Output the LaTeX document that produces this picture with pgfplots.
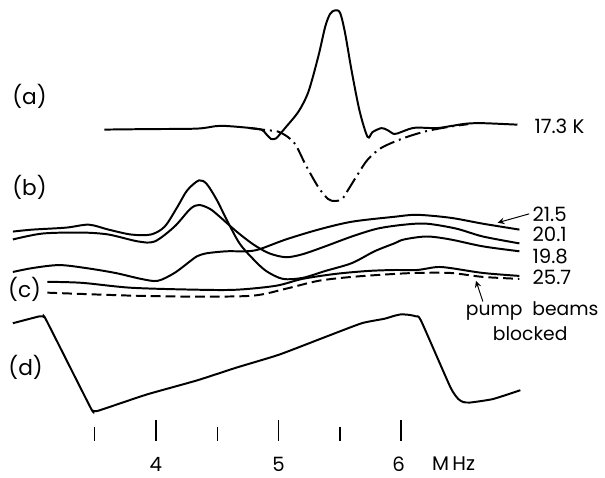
\documentclass[border=0pt]{standalone}
\usepackage{fontspec}
\setmainfont{Poppins}
\usepackage{pgfplots}
\pgfplotsset{compat=1.18}

\begin{document}
\begin{tikzpicture}
\begin{axis}[
    scale only axis,
    width=302.5pt, height=242pt,
    xmin=2.728, xmax=7.591,
    ymin=0, ymax=484,
    y dir=reverse,
    axis lines=none,
    clip=false,
    no markers,
    cycle list={{black, solid}},
    every axis plot post/.append style={black, line width=1pt, smooth},
]
\path (rel axis cs:0,0) rectangle (rel axis cs:1,1);

% (a) signal, 17.3 K
\addplot coordinates {
 (3.580,131.5) (3.934,131) (4.336,130.5) (4.521,127.7) (4.738,129.5)
 (4.859,131.5) (4.899,136) (4.939,141) (4.979,140.5) (5.019,135)
 (5.060,129) (5.164,113) (5.244,93) (5.325,57) (5.381,27) (5.421,14)
 (5.461,10.5) (5.502,13) (5.542,33) (5.598,73) (5.662,113) (5.727,139)
 (5.767,134) (5.839,130) (5.888,132) (5.944,136) (6.000,134) (6.064,131)
 (6.129,129.5) (6.290,130) (6.402,128) (6.531,125.5) (6.667,125) (6.949,126.5)
};
\addplot[dash pattern=on 8pt off 2.5pt on 1pt off 2.5pt] coordinates {
 (4.762,130) (4.899,132) (4.995,133.5) (5.076,139) (5.140,147) (5.220,167)
 (5.325,190) (5.405,202) (5.461,204) (5.518,202) (5.566,193) (5.646,177)
 (5.727,162) (5.839,150) (6.024,140) (6.209,133) (6.402,128.5) (6.547,126)
};

% (b) 21.5
\addplot coordinates {
 (2.833,276) (2.994,272) (3.211,269) (3.428,272) (3.669,277) (3.878,283)
 (4.014,285) (4.151,277) (4.280,265) (4.336,260) (4.416,257) (4.577,255)
 (4.738,255) (4.842,253) (5.060,243) (5.325,233) (5.598,225) (5.944,220)
 (6.129,218) (6.402,221) (6.667,227) (6.965,233)
};
% (b) 20.1
\addplot coordinates {
 (2.833,243) (3.074,237) (3.395,236) (3.613,238) (3.854,245) (3.990,245)
 (4.151,230) (4.280,212) (4.352,208) (4.441,212) (4.521,220) (4.658,235)
 (4.794,248) (4.923,257) (5.060,261) (5.196,258) (5.381,250) (5.598,240)
 (5.807,232) (6.024,228) (6.209,227) (6.450,232) (6.667,240) (6.965,247)
};
% (b) 19.8
\addplot coordinates {
 (2.833,235) (2.994,233) (3.267,231) (3.452,228) (3.613,233) (3.797,238)
 (3.958,238) (4.071,230) (4.175,210) (4.256,193) (4.352,183) (4.416,187)
 (4.497,203) (4.577,223) (4.682,247) (4.794,263) (4.899,275) (5.035,283)
 (5.196,282) (5.381,275) (5.598,267) (5.783,255) (5.944,247) (6.024,243)
 (6.209,240) (6.402,243) (6.667,250) (6.965,255)
};
% (c) 25.7
\addplot coordinates {
 (3.114,286) (3.395,287) (3.797,292) (4.336,294) (4.658,294) (4.979,290)
 (5.196,283) (5.461,278) (5.727,275) (5.944,274) (6.129,274) (6.290,271)
 (6.402,272) (6.667,277) (6.965,280)
};
% (c) pump beams blocked
\addplot[dash pattern=on 5pt off 2.5pt] coordinates {
 (3.114,297) (3.797,300) (4.336,301) (4.794,300) (5.060,293) (5.325,285)
 (5.598,281) (5.944,278) (6.129,277) (6.402,277) (6.667,281) (6.965,283)
};

% (d) frequency sweep
\addplot[tension=0.3] coordinates {
 (2.833,328) (3.050,321) (3.082,321.5) (3.106,325) (3.468,414) (3.492,417)
 (3.524,417) (3.669,411) (3.934,400) (4.336,386) (4.658,373) (5.003,360)
 (5.381,342) (5.679,328) (5.863,323.5) (5.944,320.5) (6.000,319) (6.064,319.5)
 (6.120,321) (6.161,325) (6.402,393) (6.467,405) (6.507,408) (6.563,408.5)
 (6.748,405) (6.973,396)
};

% frequency marks
\draw[line width=0.7pt] (axis cs:3.5,433) -- (axis cs:3.5,448);
\draw[line width=0.7pt] (axis cs:4,426) -- (axis cs:4,448);
\draw[line width=0.7pt] (axis cs:4.5,433) -- (axis cs:4.5,448);
\draw[line width=0.7pt] (axis cs:5,426) -- (axis cs:5,448);
\draw[line width=0.7pt] (axis cs:5.5,433) -- (axis cs:5.5,448);
\draw[line width=0.7pt] (axis cs:6,426) -- (axis cs:6,448);
\node[font=\fontsize{10}{12}\selectfont] at (axis cs:4,471) {4};
\node[font=\fontsize{10}{12}\selectfont] at (axis cs:5,471) {5};
\node[font=\fontsize{10}{12}\selectfont] at (axis cs:5.98,471) {6};
\node[font=\fontsize{10}{12}\selectfont] at (axis cs:6.428,471) {M\,Hz};

% panel letters
\node[font=\fontsize{11}{13}\selectfont] at (axis cs:2.969,98) {(a)};
\node[font=\fontsize{11}{13}\selectfont] at (axis cs:2.969,190) {(b)};
\node[font=\fontsize{11}{13}\selectfont] at (axis cs:2.929,294) {(c)};
\node[font=\fontsize{11}{13}\selectfont] at (axis cs:2.937,373) {(d)};

% curve labels
\node[anchor=west, inner sep=0pt, font=\fontsize{10}{12}\selectfont] at (axis cs:7.085,128) {17.3 K};
\node[anchor=west, inner sep=0pt, font=\fontsize{10}{12}\selectfont] at (axis cs:7.069,217) {21.5};
\node[anchor=west, inner sep=0pt, font=\fontsize{10}{12}\selectfont] at (axis cs:7.069,238) {20.1};
\node[anchor=west, inner sep=0pt, font=\fontsize{10}{12}\selectfont] at (axis cs:7.069,260) {19.8};
\node[anchor=west, inner sep=0pt, font=\fontsize{10}{12}\selectfont] at (axis cs:7.069,281) {25.7};
\node[font=\fontsize{9.5}{11}\selectfont] at (axis cs:7.069,316) {pump\ \ beams};
\node[font=\fontsize{9.5}{11}\selectfont] at (axis cs:7.053,339) {blocked};
\draw[line width=0.5pt, ->, >=stealth] (axis cs:7.045,217) -- (axis cs:6.788,226);
\draw[line width=0.5pt, ->, >=stealth] (axis cs:6.667,306) -- (axis cs:6.611,285);
\end{axis}
\end{tikzpicture}
\end{document}
